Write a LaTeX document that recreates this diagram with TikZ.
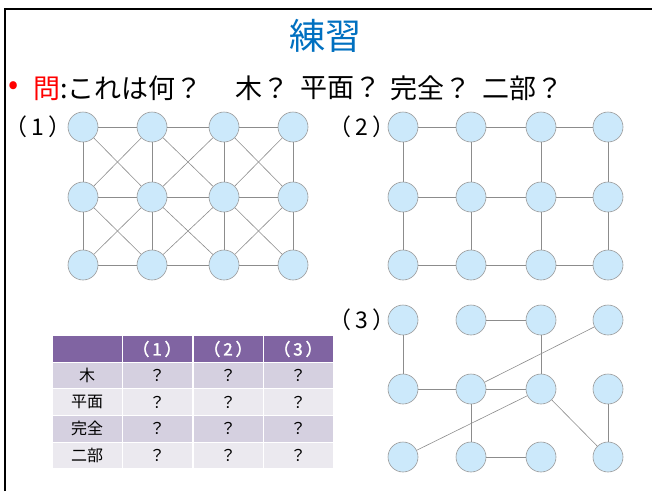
\documentclass[tikz,border=0pt]{standalone}
\usepackage{fontspec}
\newfontfamily\jp[AutoFakeBold=2]{Noto Sans CJK JP}
\definecolor{titleblue}{HTML}{0070C0}
\definecolor{vtxfill}{HTML}{CCE9FB}
\definecolor{vtxline}{HTML}{9A9A9A}
\definecolor{edgegray}{HTML}{8C8C8C}
\definecolor{hdr}{HTML}{8064A2}
\definecolor{banddark}{HTML}{D5D0E0}
\definecolor{bandlight}{HTML}{EBE9EF}
\begin{document}
\begin{tikzpicture}[x=1pt,y=-1pt,
    vtx/.style={circle,draw=vtxline,fill=vtxfill,line width=0.6pt,minimum size=30pt,inner sep=0pt},
    edge/.style={draw=edgegray,line width=0.6pt},
    cell/.style={draw=white,line width=1pt,minimum width=70pt,minimum height=26.6pt,inner sep=0pt,font=\jp\fontsize{16}{16}\selectfont}]
  \useasboundingbox (0,0) rectangle (652,491);
  \draw[line width=2pt] (5,491) -- (5,9) -- (652,9);
  % title and question
  \node[text=titleblue,font=\jp\fontsize{36}{36}\selectfont] (title) at (325,36) {練習};
  \node[text=red,font=\jp\fontsize{30}{30}\selectfont] (dot) at (14,88) {•};
  \foreach \n/\x/\t in {q0/33/{\textcolor{red}{問}:これは何？}, q1/235/木？, q2/300/平面？, q3/390/完全？, q4/482/二部？}{
    \node[anchor=west,inner sep=0pt,font=\jp\fontsize{27}{27}\selectfont] (\n) at (\x,88) {\t};
  }
  \foreach \n/\x/\y in {1/38/127, 2/362/127, 3/362/320}{
    \node[font=\jp\fontsize{23}{23}\selectfont] (L\n) at (\x,\y) {（\,\n\,）};
  }
  % (1)
  \foreach \c/\x in {0/83,1/152,2/224,3/293}{
    \foreach \r/\y in {0/127,1/197,2/265}{
      \node[vtx] (A\r\c) at (\x,\y) {};
    }
  }
  \foreach \r in {0,1,2}{
    \foreach \c/\d in {0/1,1/2,2/3}{
      \draw[edge] (A\r\c) -- (A\r\d);
    }
  }
  \foreach \r/\s in {0/1,1/2}{
    \foreach \c in {0,1,2,3}{
      \draw[edge] (A\r\c) -- (A\s\c);
    }
    \foreach \c/\d in {0/1,1/2,2/3}{
      \draw[edge] (A\r\c) -- (A\s\d);
      \draw[edge] (A\r\d) -- (A\s\c);
    }
  }
  % (2)
  \foreach \c/\x in {0/403,1/471,2/541,3/608}{
    \foreach \r/\y in {0/127,1/197,2/265}{
      \node[vtx] (B\r\c) at (\x,\y) {};
    }
  }
  \foreach \r in {0,1,2}{
    \foreach \c/\d in {0/1,1/2,2/3}{
      \draw[edge] (B\r\c) -- (B\r\d);
    }
  }
  \foreach \r/\s in {0/1,1/2}{
    \foreach \c in {0,1,2,3}{
      \draw[edge] (B\r\c) -- (B\s\c);
    }
  }
  % (3)
  \foreach \c/\x in {0/403,1/471,2/541,3/608}{
    \foreach \r/\y in {0/320,1/389,2/457}{
      \node[vtx] (C\r\c) at (\x,\y) {};
    }
  }
  \foreach \u/\v in {00/10, 01/02, 02/12, 03/11, 10/11, 11/12, 11/21, 12/20, 12/23, 13/23, 21/22}{
    \draw[edge] (C\u) -- (C\v);
  }
  % table
  \node[cell,fill=hdr] (T00) at (87,349) {};
  \foreach \c/\x in {1/157,2/228,3/298}{
    \node[cell,fill=hdr,text=white,font=\jp\bfseries\fontsize{17}{17}\selectfont] (T0\c) at (\x,349) {（\,\c\,）};
  }
  \foreach \r/\y/\t/\f in {1/375.6/木/banddark, 2/402.2/平面/bandlight, 3/428.8/完全/banddark, 4/455.4/二部/bandlight}{
    \node[cell,fill=\f] (T\r0) at (87,\y) {\t};
    \foreach \c/\x in {1/157,2/228,3/298}{
      \node[cell,fill=\f] (T\r\c) at (\x,\y) {？};
    }
  }
\end{tikzpicture}
\end{document}
